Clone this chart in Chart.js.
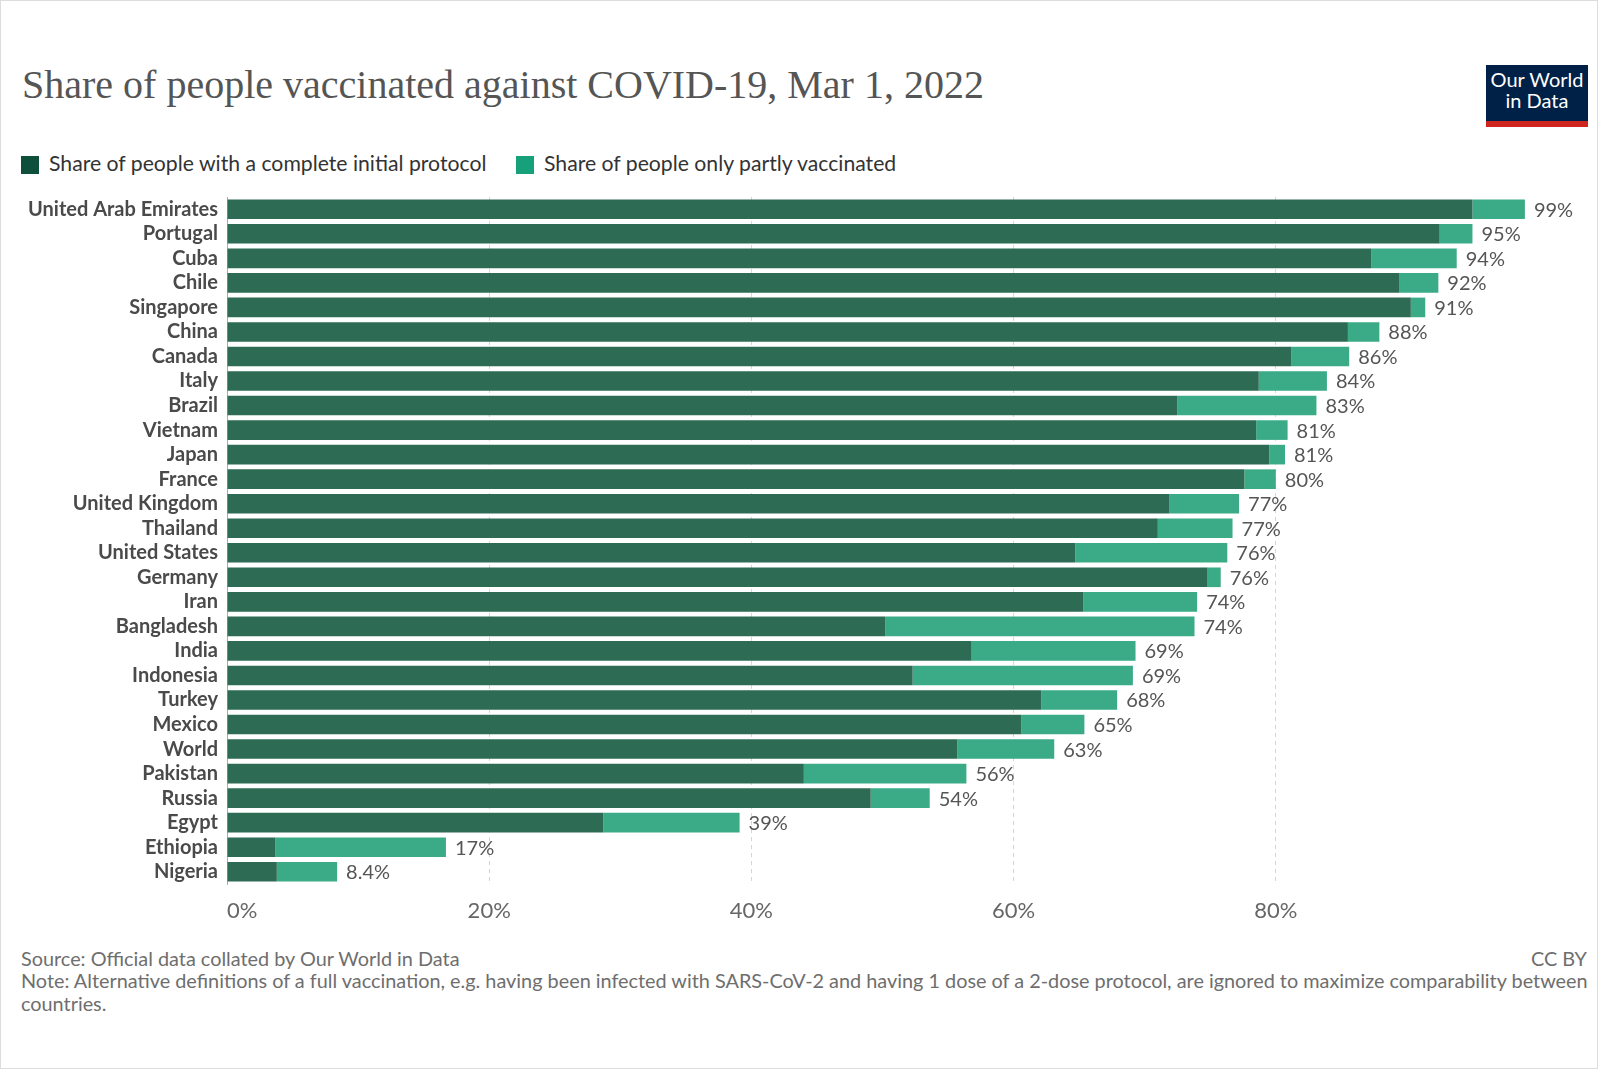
<!DOCTYPE html>
<html>
<head>
<meta charset="utf-8">
<script src="https://cdn.jsdelivr.net/npm/chart.js@4.4.1/dist/chart.umd.min.js"></script>
<style>
  body { margin: 0; background: #fff; font-family: Lato, sans-serif; }
  #frame { position: relative; width: 1598px; height: 1069px; box-sizing: border-box; border: 1px solid #ddd; overflow: hidden; }
  .abs { position: absolute; white-space: nowrap; }
  #title { left: 21px; top: 60px; font-family: "Liberation Serif", serif; font-size: 40px; color: #555; line-height: 48px; }
  #logo { left: 1485px; top: 64px; width: 102px; height: 52px; background: #002147; border-bottom: 6px solid #ce261e; color: #fff; text-align: center; font-size: 20px; line-height: 21px; padding-top: 4px; box-sizing: content-box; }
  .legend { top: 150px; font-size: 21.2px; color: #333; line-height: 24px; }
  .sw { display: inline-block; width: 18px; height: 18px; vertical-align: -3px; margin-right: 10px; }
  #chartBox { position: absolute; left: -1px; top: 184px; width: 1600px; height: 750px; }
  .foot { font-size: 19.85px; color: #6e6e6e; line-height: 22.5px; }
</style>
</head>
<body>
<div id="frame">
  <div id="title" class="abs">Share of people vaccinated against COVID-19, Mar 1, 2022</div>
  <div id="logo" class="abs">Our World<br>in Data</div>
  <div class="abs legend" style="left:20px"><span class="sw" style="background:#0e4f3b"></span>Share of people with a complete initial protocol</div>
  <div class="abs legend" style="left:515px"><span class="sw" style="background:#17a17b"></span>Share of people only partly vaccinated</div>
  <div id="chartBox"><canvas id="myChart"></canvas></div>
  <div class="abs foot" style="left:20px; top:946px">Source: Official data collated by Our World in Data</div>
  <div class="abs foot" style="right:10px; top:946px">CC BY</div>
  <div class="abs foot" style="left:20px; top:968px">Note: Alternative definitions of a full vaccination, e.g. having been infected with SARS-CoV-2 and having 1 dose of a 2-dose protocol, are ignored to maximize comparability between<br>countries.</div>
</div>
<script>
// paises (de arriba hacia abajo)
const countries = ['United Arab Emirates', 'Portugal', 'Cuba', 'Chile', 'Singapore', 'China', 'Canada', 'Italy', 'Brazil', 'Vietnam', 'Japan', 'France', 'United Kingdom', 'Thailand', 'United States', 'Germany', 'Iran', 'Bangladesh', 'India', 'Indonesia', 'Turkey', 'Mexico', 'World', 'Pakistan', 'Russia', 'Egypt', 'Ethiopia', 'Nigeria'];
// % con esquema completo
const complete = [95.0, 92.5, 87.3, 89.4, 90.3, 85.5, 81.2, 78.7, 72.5, 78.5, 79.5, 77.6, 71.9, 71.0, 64.7, 74.8, 65.3, 50.2, 56.8, 52.3, 62.1, 60.6, 55.7, 44.0, 49.1, 28.7, 3.7, 3.8];
// % con al menos una dosis (total de la barra)
const total = [99.0, 95.0, 93.8, 92.4, 91.4, 87.9, 85.6, 83.9, 83.1, 80.9, 80.7, 80.0, 77.2, 76.7, 76.3, 75.8, 74.0, 73.8, 69.3, 69.1, 67.9, 65.4, 63.1, 56.4, 53.6, 39.1, 16.7, 8.4];
// etiquetas del eje X
const xTicks = [0, 20, 40, 60, 80];

// parte solo parcialmente vacunada
const partly = total.map((t, i) => +(t - complete[i]).toFixed(1));

function fmtPct(v) {
    return v < 10 ? v.toFixed(1) + '%' : Math.round(v) + '%';
}

// etiquetas de total al final de cada barra
const totalLabels = {
    id: 'totalLabels',
    afterDatasetsDraw(chart) {
        const ctx = chart.ctx;
        const meta = chart.getDatasetMeta(1);
        ctx.save();
        ctx.font = '20px Lato';
        ctx.fillStyle = '#555';
        ctx.textAlign = 'left';
        ctx.textBaseline = 'middle';
        meta.data.forEach((bar, i) => {
            ctx.fillText(fmtPct(total[i]), bar.x + 9, bar.y + 1);
        });
        ctx.restore();
    }
};

Chart.defaults.font.family = 'Lato';

const ctx = document.getElementById('myChart').getContext('2d');
const myChart = new Chart(ctx, {
    type: 'bar',
    data: {
        labels: countries,
        datasets: [{
            label: 'Share of people with a complete initial protocol',
            data: complete,
            backgroundColor: '#2e6b54',
            barPercentage: 0.8,
            categoryPercentage: 1
        }, {
            label: 'Share of people only partly vaccinated',
            data: partly,
            backgroundColor: '#3aab86',
            barPercentage: 0.8,
            categoryPercentage: 1
        }]
    },
    options: {
        indexAxis: 'y',
        responsive: true,
        maintainAspectRatio: false,
        animation: false,
        layout: { padding: { top: 12, right: 62, left: 0, bottom: 0 } },
        scales: {
            x: {
                stacked: true,
                min: 0,
                max: 100,
                afterBuildTicks: (scale) => {
                    scale.ticks = xTicks.concat([100]).map(v => ({ value: v }));
                },
                afterFit: (scale) => { scale.height = 51; },
                ticks: {
                    align: 'inner',
                    padding: 14,
                    color: '#666',
                    font: { size: 22 },
                    callback: (v) => v === 100 ? '' : v + '%'
                },
                grid: {
                    drawTicks: false,
                    color: (c) => (c.tick && (c.tick.value === 0 || c.tick.value === 100)) ? 'transparent' : '#d6d6d6'
                },
                border: { display: false, dash: [4, 4] }
            },
            y: {
                stacked: true,
                afterFit: (scale) => {
                    scale.width = 227;
                    scale.paddingTop = 0;
                    scale.paddingBottom = 0;
                },
                ticks: {
                    padding: 9,
                    color: '#4a4a4a',
                    font: { size: 20, weight: 'bold' },
                    autoSkip: false
                },
                grid: { display: false, drawTicks: false },
                border: { display: true, color: '#aaa', width: 1 }
            }
        },
        plugins: {
            legend: { display: false },
            tooltip: { enabled: false }
        }
    },
    plugins: [totalLabels]
});
</script>
</body>
</html>
